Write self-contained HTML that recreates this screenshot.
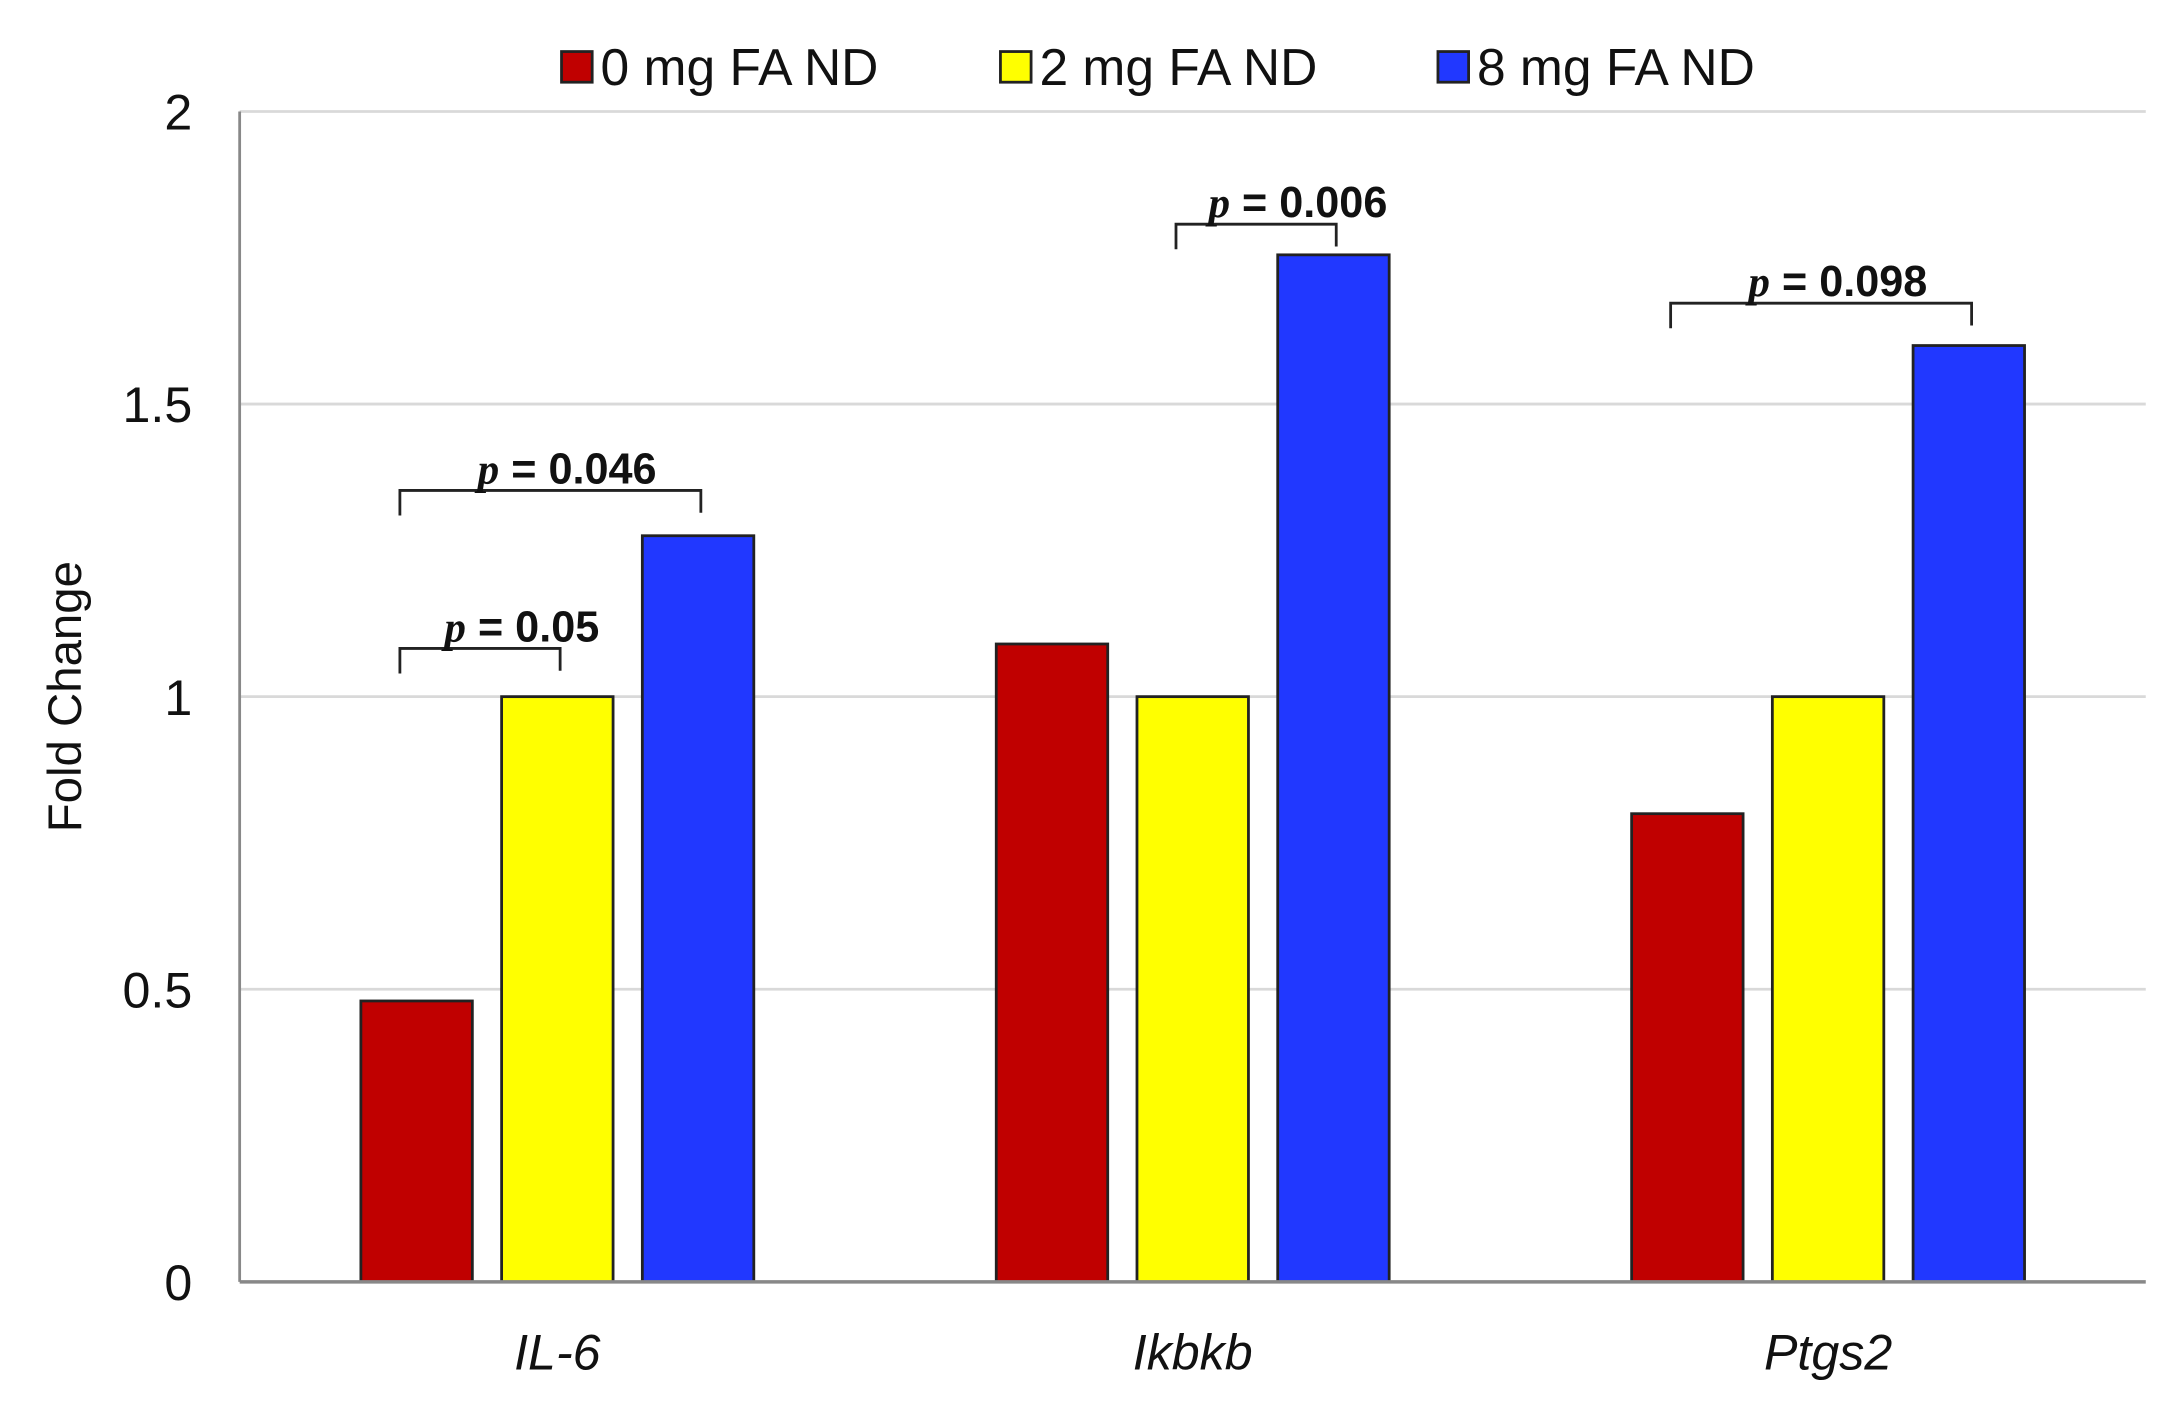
<!DOCTYPE html>
<html><head><meta charset="utf-8"><style>
html,body{margin:0;padding:0;background:#fff;}
svg{display:block;}
text{font-family:"Liberation Sans",Arial,sans-serif;}
</style></head><body>
<svg id="chart" width="2182" height="1417" viewBox="0 0 1566 1017" preserveAspectRatio="none" xmlns="http://www.w3.org/2000/svg">
<g id="grid"></g>
<g id="bars"></g>
<g id="axes"></g>
<g id="ann"></g>
<g id="legend"></g>
<text transform="translate(58,500) rotate(-90)" text-anchor="middle" font-size="34" fill="#111">Fold Change</text>
</svg>
<script>
const categories = ["IL-6", "Ikbkb", "Ptgs2"];
const seriesNames = ["0 mg FA ND", "2 mg FA ND", "8 mg FA ND"];
const s0 = [0.48, 1.09, 0.80];
const s1 = [1.0, 1.0, 1.0];
const s2 = [1.275, 1.755, 1.6];
const yTicks = [0, 0.5, 1, 1.5, 2];
const yTickLabels = ["0", "0.5", "1", "1.5", "2"];
const pLabels = ["0.05", "0.046", "0.006", "0.098"];
const pCats = [0, 0, 1, 2];
const pFrom = [0, 0, 1, 0];
const pTo = [1, 2, 2, 2];
const pLevel = [1.03, 1.30, 1.755, 1.62];

const NS = "http://www.w3.org/2000/svg";
const colors = ["#c00000", "#ffff00", "#2138ff"];
const L = 172, R = 1540, T = 80, B = 920, ymax = 2;
const y = v => B - (v / ymax) * (B - T);
const gw = (R - L) / categories.length;
const barW = 80, step = 101;
const xc = (c, s) => L + gw * c + gw / 2 + (s - 1) * step;
function mk(tag, attrs, parent) {
  const e = document.createElementNS(NS, tag);
  for (const k in attrs) e.setAttribute(k, attrs[k]);
  parent.appendChild(e);
  return e;
}
const grid = document.getElementById('grid'), bars = document.getElementById('bars'),
      axes = document.getElementById('axes'), ann = document.getElementById('ann'),
      legend = document.getElementById('legend');
yTicks.forEach((t, i) => {
  if (t > 0) {
    const g = mk('line', {x1: L, x2: R, y1: y(t), y2: y(t), stroke: '#d9d9d9', 'stroke-width': 2}, grid);
    
    
  }
  const tl = mk('text', {x: 138, y: y(t) + 13, 'text-anchor': 'end', 'font-size': 36, fill: '#111'}, axes);
  tl.textContent = yTickLabels[i];
  
  
});
const series = [s0, s1, s2];
series.forEach((s, si) => {
  s.forEach((v, ci) => {
    const r = mk('rect', {x: xc(ci, si) - barW / 2, y: y(v), width: barW, height: B - y(v), fill: colors[si], stroke: '#222', 'stroke-width': 2}, bars);
    
    
  });
});
const ax1 = mk('line', {x1: L, x2: L, y1: T, y2: B, stroke: '#888', 'stroke-width': 2}, axes);


const ax2 = mk('line', {x1: L, x2: R, y1: B, y2: B, stroke: '#888', 'stroke-width': 2.5}, axes);


categories.forEach((c, ci) => {
  const t = mk('text', {x: xc(ci, 1), y: 983, 'text-anchor': 'middle', 'font-size': 36, 'font-style': 'italic', fill: '#111'}, axes);
  t.textContent = c;
  
  
});
pLabels.forEach((p, i) => {
  const c = pCats[i];
  const x1 = xc(c, pFrom[i]) - 12, x2 = xc(c, pTo[i]) + 2;
  const yy = y(pLevel[i]) - 22;
  const br = mk('path', {d: `M${x1},${yy + 18} V${yy} H${x2} V${yy + 16}`, fill: 'none', stroke: '#222', 'stroke-width': 2}, ann);
  
  
  const cx = (x1 + x2) / 2 + (x2 - x1 < 150 ? 30 : 12);
  const t = mk('text', {x: cx, y: yy - 5, 'text-anchor': 'middle', 'font-size': 31, 'font-weight': 'bold', fill: '#111'}, ann);
  
  
  const ts = mk('tspan', {'font-family': '"Liberation Serif",serif', 'font-style': 'italic'}, t);
  ts.textContent = 'p';
  const ts2 = mk('tspan', {}, t);
  ts2.textContent = ' = ' + p;
});
const lx = [403, 718, 1032];
seriesNames.forEach((n, i) => {
  const r = mk('rect', {x: lx[i], y: 37, width: 22, height: 22, fill: colors[i], stroke: '#222', 'stroke-width': 2}, legend);
  
  
  const t = mk('text', {x: lx[i] + 28, y: 61, 'font-size': 37, fill: '#111'}, legend);
  t.textContent = n;
  
  
});
</script>
</body></html>
